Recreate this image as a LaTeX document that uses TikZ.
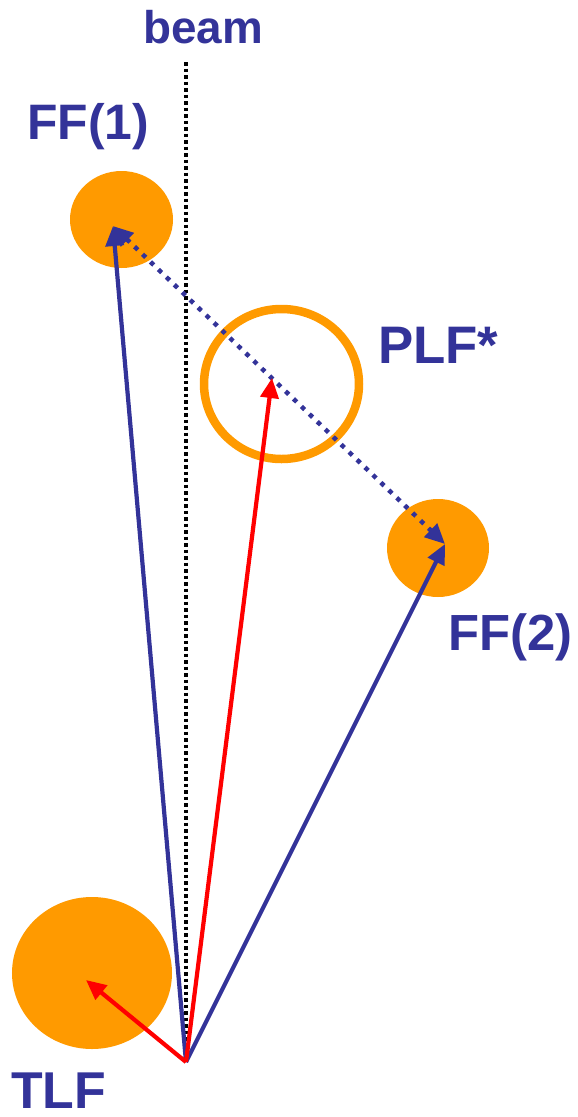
\documentclass[tikz,border=0pt]{standalone}
\usepackage{fontspec}
\setmainfont{Liberation Sans}
\usetikzlibrary{arrows.meta,shapes.geometric}
\definecolor{Ball}{RGB}{255,154,0}
\definecolor{Navy}{RGB}{51,51,153}
\definecolor{Vred}{RGB}{255,0,0}
\begin{document}
\begin{tikzpicture}[x=1bp, y=-1bp, line join=bevel,
  ball/.style={ellipse, fill=Ball, inner sep=0pt},
  lbl/.style={anchor=base west, text=Navy, inner sep=0pt, text depth=0pt},
  vec/.style={line width=4.2bp, -{Triangle[length=20bp,width=18bp]}},
]
\useasboundingbox (0,0) rectangle (578,1117);
%%
\node (ball_ff1) at (121.5,219.5)
  [ball, minimum width=103bp, minimum height=97bp] {};
\node (ball_ff2) at (438,548)
  [ball, minimum width=102bp, minimum height=98bp] {};
\node (ball_tlf) at (92,973)
  [ball, minimum width=160bp, minimum height=152bp] {};
\node (ring_plf) at (281.5,384)
  [ellipse, draw=Ball, line width=8.5bp, inner sep=0pt,
   minimum width=155bp, minimum height=150bp] {};

\node (txt_beam) at (143,43) [lbl, font=\fontsize{46}{50}\selectfont\bfseries] {beam};
\node (txt_ff1) at (27,139) [lbl, font=\fontsize{50}{55}\selectfont\bfseries] {FF(1)};
\node (txt_plf) at (378,363) [lbl, font=\fontsize{53}{58}\selectfont\bfseries] {PLF*};
\node (txt_ff2) at (448,650) [lbl, font=\fontsize{51}{56}\selectfont\bfseries] {FF(2)};
\node (txt_tlf) at (11,1108) [lbl, font=\fontsize{52}{57}\selectfont\bfseries] {TLF};

\coordinate (beam_top) at (186,62);
\coordinate (origin) at (186,1062);
\coordinate (tip_ff1) at (113,226);
\coordinate (tip_ff2) at (445,544);
\coordinate (tip_plf) at (272,378);
\coordinate (tip_tlf) at (86,980);

\draw [line width=3.5bp, dash pattern=on 3.5bp off 3bp]
  (beam_top) -- (origin);

\draw [Navy, line width=4.5bp, dash pattern=on 4.5bp off 6.5bp,
  {Triangle[length=20bp,width=18bp]}-{Triangle[length=20bp,width=18bp]}]
  (tip_ff1) -- (tip_ff2);

\draw [vec, Navy] (origin) -- (tip_ff1);
\draw [vec, Navy] (origin) -- (tip_ff2);
\draw [vec, Vred] (origin) -- (tip_plf);
\draw [vec, Vred] (origin) -- (tip_tlf);
\end{tikzpicture}
\end{document}
